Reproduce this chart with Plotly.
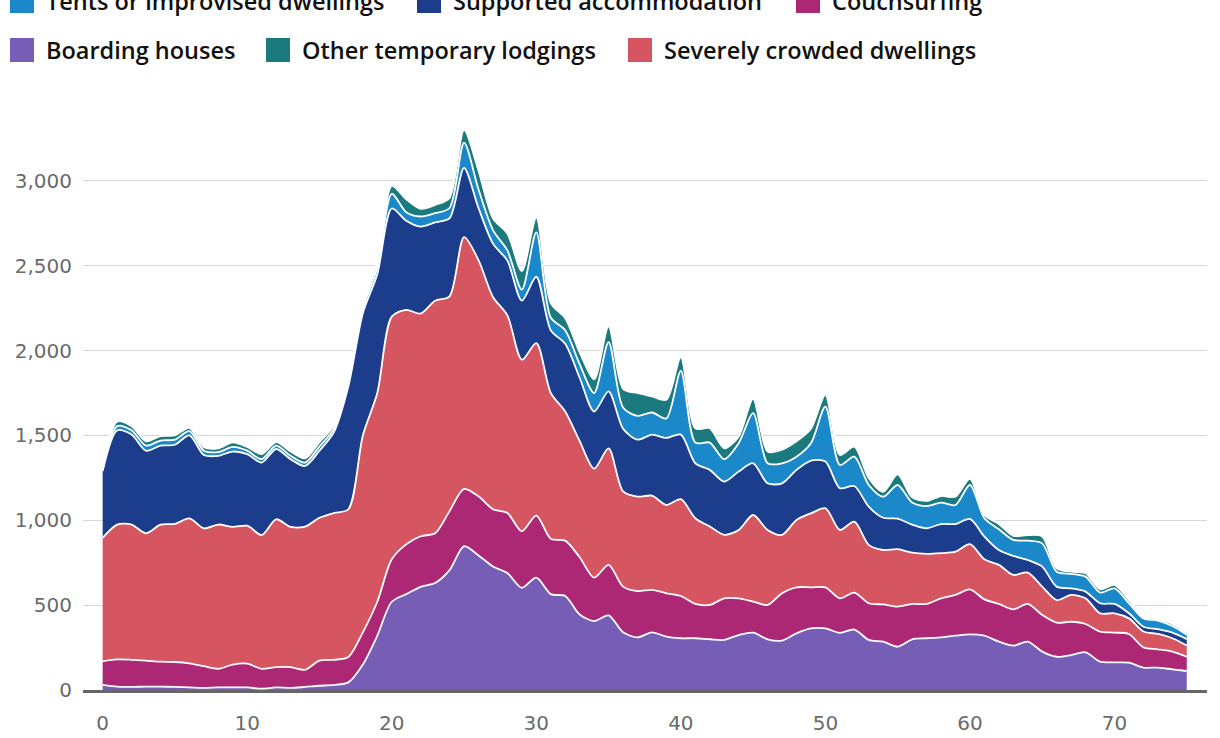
import plotly.graph_objects as go

x_vals = list(range(76))

boarding_houses = [30, 20, 18, 20, 20, 18, 15, 12, 15, 15, 15, 8, 15, 12, 18, 25, 30, 45, 150, 320,
                   520, 565, 608, 630, 706, 847, 793, 728, 689, 602, 662, 565, 554, 445, 406, 440, 340, 310, 340, 314,
                   305, 305, 299, 295, 324, 338, 299, 291, 334, 363, 363, 337, 356, 295, 285, 255, 299, 305, 310, 320,
                   328, 320, 285, 261, 285, 226, 196, 206, 222, 167, 163, 161, 132, 132, 122, 112]
couchsurfing = [139, 160, 160, 153, 147, 147, 142, 128, 110, 135, 140, 117, 120, 123, 101, 148, 148, 150, 190, 200,
                250, 293, 298, 293, 348, 338, 348, 337, 354, 333, 366, 326, 326, 337, 256, 297, 269, 273, 250, 256,
                249, 202, 202, 245, 216, 183, 202, 279, 271, 242, 242, 203, 218, 216, 219, 236, 208, 202, 230, 240,
                265, 214, 222, 214, 222, 216, 201, 196, 167, 177, 175, 169, 119, 108, 104, 84]
severely_crowded = [727, 794, 797, 750, 807, 814, 854, 812, 850, 811, 813, 788, 871, 826, 844, 842, 865, 870, 1160, 1230,
                    1430, 1382, 1312, 1371, 1266, 1483, 1392, 1251, 1164, 1011, 1016, 859, 761, 685, 642, 687, 561, 557, 555, 520,
                    570, 505, 462, 374, 403, 510, 442, 344, 397, 436, 466, 403, 418, 344, 321, 339, 302, 295, 266, 255,
                    266, 236, 230, 203, 185, 167, 133, 158, 151, 108, 114, 92, 94, 90, 79, 66]
supported_accommodation = [394, 556, 530, 487, 466, 466, 489, 433, 405, 444, 422, 427, 414, 399, 357, 395, 477, 725, 720, 700,
                           637, 525, 512, 461, 460, 408, 307, 315, 323, 348, 391, 370, 399, 373, 337, 336, 370, 335, 360, 395,
                           381, 324, 334, 314, 344, 305, 275, 304, 295, 311, 275, 246, 210, 225, 190, 180, 166, 151, 172, 163,
                           149, 134, 88, 112, 74, 118, 79, 39, 40, 59, 55, 30, 28, 28, 33, 38]
tents_improvised = [10, 25, 25, 30, 30, 30, 25, 25, 22, 27, 20, 20, 20, 20, 20, 25, 20, 20, 25, 40,
                    87, 50, 60, 55, 60, 149, 110, 79, 60, 65, 261, 75, 80, 80, 109, 290, 125, 140, 130, 115,
                    375, 122, 161, 132, 167, 295, 118, 118, 78, 102, 324, 137, 173, 128, 124, 198, 130, 131, 126, 112,
                    200, 108, 122, 94, 114, 137, 88, 85, 88, 63, 92, 59, 49, 51, 39, 26]
other_temporary = [15, 26, 24, 25, 26, 25, 20, 20, 22, 27, 22, 30, 20, 25, 25, 25, 20, 20, 25, 30,
                   46, 77, 45, 48, 60, 75, 110, 70, 100, 109, 87, 85, 70, 70, 80, 92, 110, 135, 95, 110,
                   80, 84, 84, 64, 39, 84, 69, 80, 90, 85, 69, 59, 59, 40, 29, 62, 30, 30, 39, 49,
                   36, 19, 31, 24, 33, 40, 20, 13, 20, 19, 20, 19, 10, 8, 12, 8]

series_names = ["Boarding houses", "Couchsurfing", "Severely crowded dwellings",
                "Supported accommodation", "Tents or improvised dwellings", "Other temporary lodgings"]
series_values = [boarding_houses, couchsurfing, severely_crowded,
                 supported_accommodation, tents_improvised, other_temporary]
series_colors = ["#765DB6", "#AD2874", "#D55561", "#1B3D8B", "#1B88CA", "#1B7A7E"]

y_ticks = [0, 500, 1000, 1500, 2000, 2500, 3000]
y_tick_text = ["0", "500", "1,000", "1,500", "2,000", "2,500", "3,000"]
x_ticks = [0, 10, 20, 30, 40, 50, 60, 70]

fig = go.Figure()
for name, vals, col in zip(series_names, series_values, series_colors):
    fig.add_trace(go.Scatter(
        x=x_vals, y=vals, name=name, stackgroup="one", mode="lines",
        line=dict(color="white", width=1.8, shape="spline", smoothing=0.8),
        fillcolor=col, showlegend=False, hoverinfo="skip"))

W, H = 1220, 738
ML, MR, MT, MB = 83, 13, 96, 48
PW, PH = W - ML - MR, H - MT - MB


def px_x(px):
    return (px - ML) / PW


def px_y(py):
    return (H - MB - py) / PH


legend_rows = [
    [("Tents or improvised dwellings", "#1B88CA", 10), ("Supported accommodation", "#1B3D8B", 417),
     ("Couchsurfing", "#AD2874", 796)],
    [("Boarding houses", "#765DB6", 10), ("Other temporary lodgings", "#1B7A7E", 266),
     ("Severely crowded dwellings", "#D55561", 628)],
]
row_centers = [1, 50]
shapes = []
annotations = []
for row, cy in zip(legend_rows, row_centers):
    for label, col, sx in row:
        shapes.append(dict(type="rect", xref="paper", yref="paper",
                           x0=px_x(sx), x1=px_x(sx + 24), y0=px_y(cy + 12), y1=px_y(cy - 12),
                           fillcolor=col, line=dict(width=0), layer="above"))
        annotations.append(dict(xref="paper", yref="paper", x=px_x(sx + 34), y=px_y(cy),
                                xanchor="left", yanchor="middle", text=label, showarrow=False,
                                font=dict(family="Open Sans", size=23.5, color="#111111", weight=600)))

fig.update_layout(
    width=W, height=H,
    margin=dict(l=ML, r=MR, t=MT, b=MB, autoexpand=False),
    paper_bgcolor="white", plot_bgcolor="white",
    shapes=shapes, annotations=annotations,
    xaxis=dict(range=[-1.36, 76.4], tickvals=x_ticks, showgrid=False, zeroline=False,
               showline=True, linecolor="#666666", linewidth=2.5, ticks="", automargin=False,
               tickfont=dict(family="DejaVu Sans", size=20, color="#6a6a6a"),
               ticklabelstandoff=13),
    yaxis=dict(range=[0, 3500], tickvals=y_ticks, ticktext=y_tick_text, showgrid=True,
               gridcolor="#d6d6d6", gridwidth=1.2, zeroline=False, showline=False, ticks="",
               automargin=False,
               tickfont=dict(family="DejaVu Sans", size=20, color="#6a6a6a"),
               ticklabelstandoff=10),
    showlegend=False,
)

fig.write_html("out.html", config={"displayModeBar": False},
               post_script="document.body.style.margin='0px';document.body.style.overflow='hidden';")
